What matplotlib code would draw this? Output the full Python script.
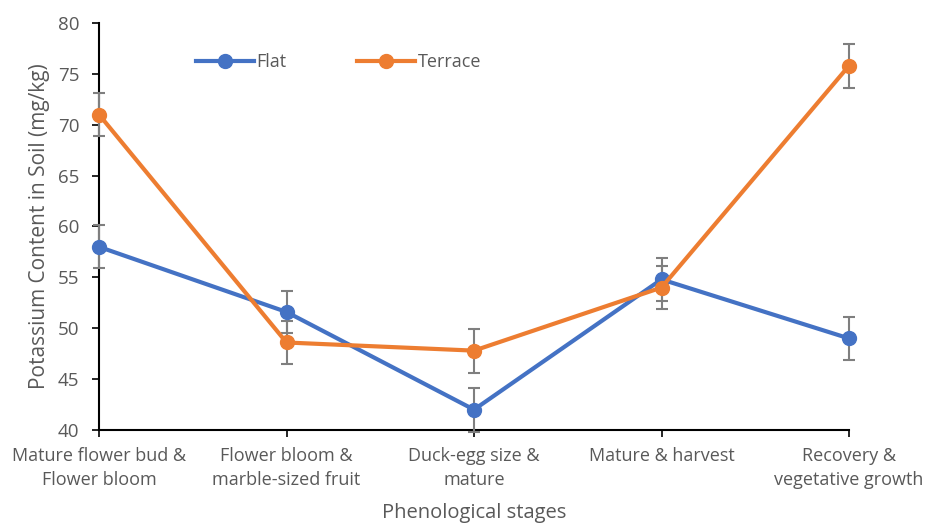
import matplotlib
matplotlib.use("Agg")
import matplotlib.pyplot as plt
from matplotlib.lines import Line2D

stages = ["Mature flower bud &\nFlower bloom", "Flower bloom &\nmarble-sized fruit",
          "Duck-egg size &\nmature", "Mature & harvest", "Recovery &\nvegetative growth"]
flat = [58.0, 51.6, 42.0, 54.8, 49.0]
flat_err = [2.1, 2.1, 2.15, 2.1, 2.1]
terrace = [71.0, 48.6, 47.8, 54.0, 75.8]
terrace_err = [2.15, 2.15, 2.15, 2.1, 2.15]

plt.rcParams['font.family'] = ['Open Sans', 'DejaVu Sans']

gray = "#595959"
fig = plt.figure(figsize=(9.27, 5.27), dpi=100)
ax = fig.add_axes([99/927, 1-430/527, 750/927, 407/527])

x = list(range(len(stages)))
handles = []
for vals, err, col, lab in [(flat, flat_err, "#4472C4", "Flat"), (terrace, terrace_err, "#ED7D31", "Terrace")]:
    ax.errorbar(x, vals, yerr=err, color=col, ecolor="#7F7F7F", elinewidth=1.5, capsize=4,
                capthick=1.5, lw=3, marker='o', ms=10, clip_on=False, zorder=3)
    handles.append(Line2D([], [], color=col, lw=3, marker='o', ms=10, label=lab))

ax.set_xlim(0, 4)
ax.set_ylim(40, 80)
ax.set_yticks(range(40, 81, 5))
ax.set_xticks(x)
ax.set_xticklabels(stages, fontsize=13, color=gray, linespacing=1.45)
ax.tick_params(axis='y', labelsize=13.5, labelcolor=gray, length=5, width=1.2, pad=9)
ax.tick_params(axis='x', length=5, width=1.2, pad=7)
for s in ["top", "right"]:
    ax.spines[s].set_visible(False)
for s in ["left", "bottom"]:
    ax.spines[s].set_linewidth(1.5)
    ax.spines[s].set_color("black")
ax.set_ylabel("Potassium Content in Soil (mg/kg)", fontsize=15, color=gray, labelpad=6)
ax.set_xlabel("Phenological stages", fontsize=14.5, color=gray, labelpad=10)

leg = ax.legend(handles=handles, loc='upper left', bbox_to_anchor=(0.108, 0.965), ncol=2, frameon=False,
                fontsize=13, handlelength=3.2, columnspacing=3.9, handletextpad=0.15)
for t in leg.get_texts():
    t.set_color(gray)

fig.savefig("out.png", dpi=100)
